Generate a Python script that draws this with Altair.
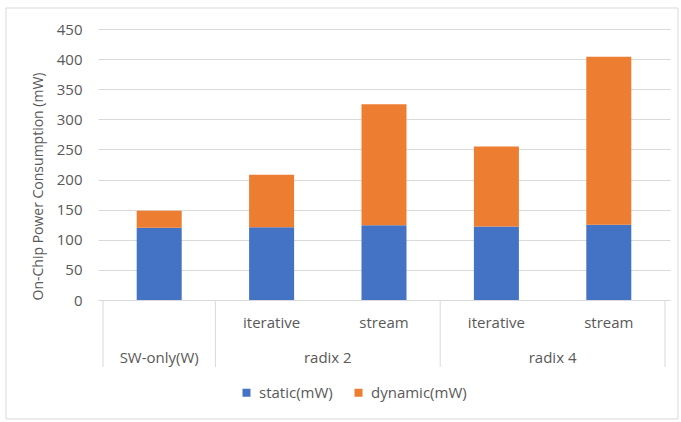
import altair as alt
import pandas as pd

# Implementations along the category axis
groups = ["SW-only(W)", "radix 2", "radix 2", "radix 4", "radix 4"]
variants = ["", "iterative", "stream", "iterative", "stream"]

# Power breakdown per implementation (mW)
static_mw = [120, 121, 124, 122, 125]
dynamic_mw = [28, 87, 201, 133, 279]

series = ["static(mW)", "dynamic(mW)"]
series_colors = ["#4472C4", "#ED7D31"]
y_ticks = [0, 50, 100, 150, 200, 250, 300, 350, 400, 450]

TEXT = "#595959"
LINE = "#D9D9D9"
FONT = "Open Sans"

positions = list(range(len(groups)))

rows = []
for p, s, d in zip(positions, static_mw, dynamic_mw):
    rows.append({"pos": p, "series": series[0], "value": s, "order": 0})
    rows.append({"pos": p, "series": series[1], "value": d, "order": 1})
bars_df = pd.DataFrame(rows)

inner_df = pd.DataFrame({"pos": positions, "sub": variants})
inner_df = inner_df[inner_df["sub"] != ""]

grp = pd.DataFrame({"pos": positions, "group": groups})
grp_df = grp.groupby("group", sort=False)["pos"].agg(["min", "max", "mean"]).reset_index()
bounds = sorted(set(list(grp_df["min"] - 0.5) + list(grp_df["max"] + 0.5)))
div_df = pd.DataFrame({"pos": bounds})

x_scale = alt.Scale(domain=[-0.5, len(groups) - 0.5], nice=False, zero=False)

frame = alt.Chart(pd.DataFrame({"k": [0]})).mark_rect(
    filled=False, color=LINE, strokeWidth=1
).encode(
    x=alt.value(-92), x2=alt.value(580), y=alt.value(-21), y2=alt.value(390)
)

bars = alt.Chart(bars_df).mark_bar(size=45).encode(
    x=alt.X("pos:Q", scale=x_scale, axis=None),
    y=alt.Y(
        "value:Q",
        stack="zero",
        scale=alt.Scale(domain=[0, 450], nice=False),
        axis=alt.Axis(
            values=y_ticks,
            title="On-Chip Power Consumption (mW)",
            grid=True,
            gridColor=LINE,
            gridWidth=1,
            domain=False,
            ticks=False,
            labelPadding=16,
            labelColor=TEXT,
            labelFontSize=15,
            labelFont=FONT,
            titleColor=TEXT,
            titleFontSize=14,
            titleFont=FONT,
            titleFontWeight="normal",
            titleAngle=270,
            titleX=-60,
            titleY=157,
            titleAlign="center",
            titleBaseline="middle",
        ),
    ),
    color=alt.Color(
        "series:N",
        scale=alt.Scale(domain=series, range=series_colors),
        legend=alt.Legend(
            title=None,
            orient="none",
            direction="horizontal",
            legendX=141,
            legendY=356,
            symbolType="square",
            symbolSize=64,
            symbolStrokeWidth=0,
            labelFontSize=15,
            labelFont=FONT,
            labelColor=TEXT,
            labelOffset=5,
            columnPadding=18,
            padding=0,
        ),
    ),
    order=alt.Order("order:Q"),
)

dividers = alt.Chart(div_df).mark_rule(color=LINE, strokeWidth=1).encode(
    x=alt.X("pos:Q", scale=x_scale),
    y=alt.value(271),
    y2=alt.value(338),
)

inner_labels = alt.Chart(inner_df).mark_text(
    font=FONT, fontSize=15, color=TEXT, baseline="middle", align="center"
).encode(
    x=alt.X("pos:Q", scale=x_scale),
    y=alt.value(294),
    text="sub:N",
)

group_labels = alt.Chart(grp_df).mark_text(
    font=FONT, fontSize=15, color=TEXT, baseline="middle", align="center"
).encode(
    x=alt.X("mean:Q", scale=x_scale),
    y=alt.value(329),
    text="group:N",
)

chart = alt.layer(frame, bars, dividers, inner_labels, group_labels).properties(
    width=572,
    height=271,
    autosize=alt.AutoSizeParams(type="none"),
    padding={"left": 98, "top": 29, "right": 11, "bottom": 122},
    background="white",
).configure_view(strokeWidth=0)

chart.save("out.html", embed_options={"renderer": "svg", "actions": False})
